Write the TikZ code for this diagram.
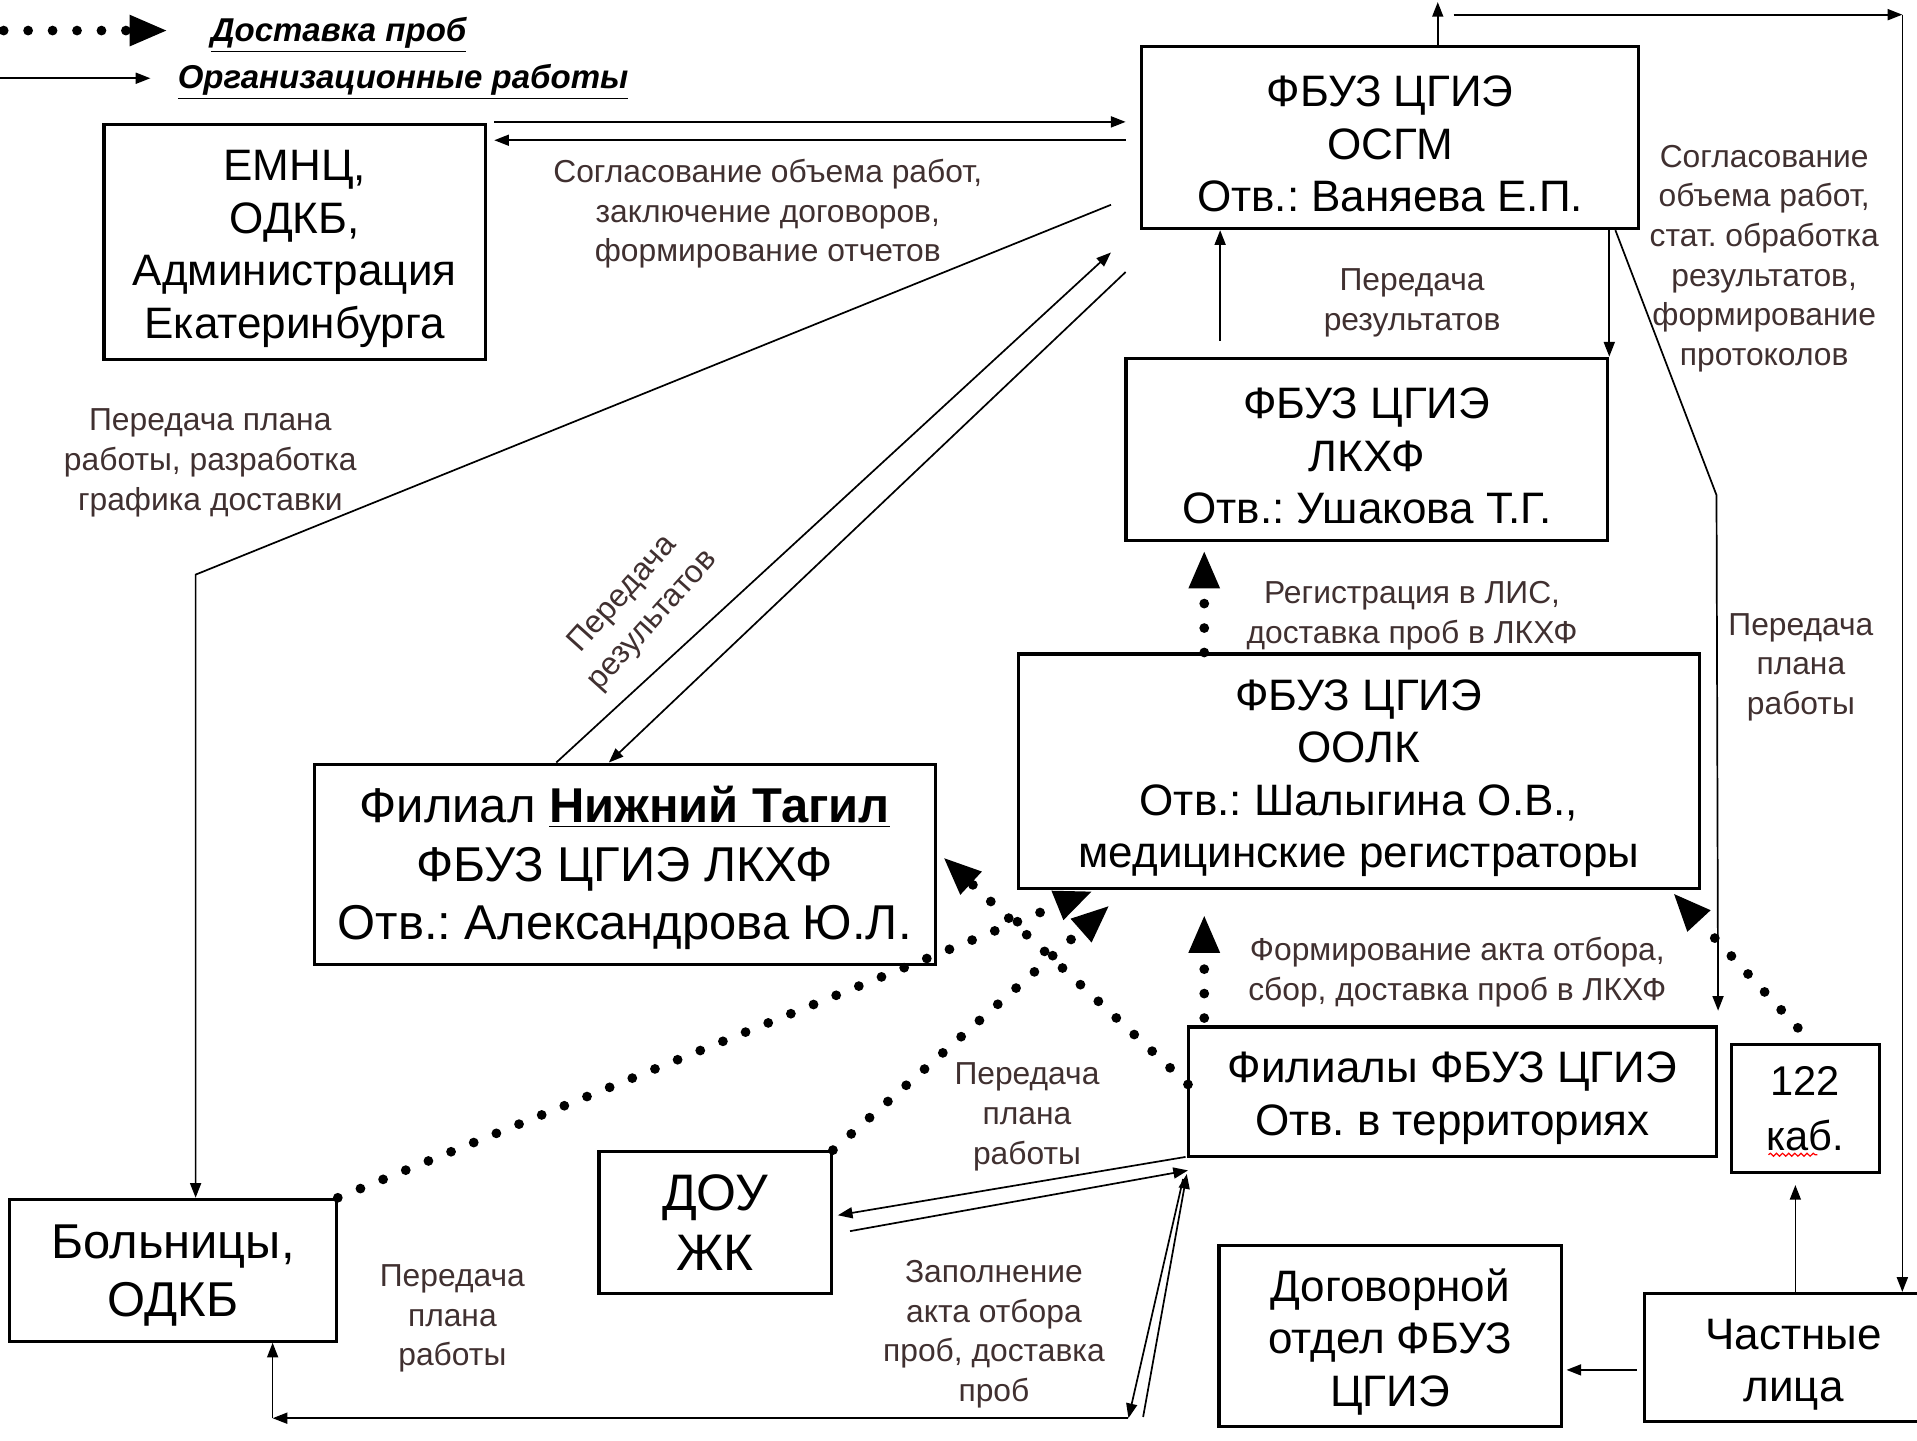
\documentclass[tikz,border=0pt]{standalone}
\usepackage{fontspec}
\setmainfont{Liberation Sans}
\usepackage{tikz}
\usetikzlibrary{positioning, arrows.meta, calc, decorations.pathmorphing}
\frenchspacing
\newcommand{\blockstrut}{\rule{0pt}{18pt}}
\newcommand{\notestrut}{\rule{0pt}{12.5pt}}

\begin{document}
\begin{tikzpicture}[x=0.5pt, y=-0.5pt, >={Triangle[length=6pt,width=4.5pt]}, every node/.style={inner sep=0pt}]
    % Define styles
    \tikzset{
        block/.style={draw, line width=1.3pt, rectangle, align=center, font=\fontsize{18}{21.5}\selectfont},
        note/.style={align=center, text=notegray, font=\fontsize{13}{16.2}\selectfont},
        legend/.style={anchor=west, font=\fontsize{13.5}{16}\selectfont\bfseries\itshape},
        org/.style={->, line width=0.7pt},
        probe/.style={line width=4pt, line cap=round, dash pattern=on 0pt off 10pt, -{Triangle[length=15pt,width=13pt,line width=0pt]}},
        squiggle/.style={red, line width=0.5pt, decorate, decoration={snake, amplitude=0.6pt, segment length=2.5pt}},
    }
    % Define colors
    \definecolor{notegray}{RGB}{64,48,48}

    \useasboundingbox (0,0) rectangle (1568,1178);

    % Legend
    \node[legend] (legprobe) at (172,29) {\underline{Доставка проб}};
    \node[legend] (legorg) at (145,67) {\underline{Организационные работы}};
    \coordinate (legdot) at (3,25);
    \coordinate (legline) at (0,64);
    \draw[probe] (legdot) -- ([xshift=-18pt]legprobe.west |- legdot);
    \draw[org] (legline) -- ([xshift=-11pt]legorg.west |- legline);

    % Nodes
    \node[block, minimum width=156pt, minimum height=96pt] (emnc) at (241,198) {\blockstrut ЕМНЦ,\\ОДКБ,\\Администрация\\Екатеринбурга};
    \node[block, minimum width=203pt, minimum height=74.5pt] (osgm) at (1137,112.5) {\blockstrut ФБУЗ ЦГИЭ\\ОСГМ\\Отв.: Ваняева Е.П.};
    \node[block, minimum width=197pt, minimum height=74.5pt] (lkhf) at (1118,367.5) {\blockstrut ФБУЗ ЦГИЭ\\ЛКХФ\\Отв.: Ушакова Т.Г.};
    \node[block, minimum width=278.5pt, minimum height=96pt] (oolk) at (1111.5,631) {\blockstrut ФБУЗ ЦГИЭ\\ООЛК\\Отв.: Шалыгина О.В.,\\медицинские регистраторы};
    \node[block, minimum width=254pt, minimum height=82pt, font=\fontsize{20}{24}\selectfont] (tagil) at (511,707) {\blockstrut Филиал \textbf{\underline{Нижний Тагил}}\\ФБУЗ ЦГИЭ ЛКХФ\\Отв.: Александрова Ю.Л.};
    \node[block, minimum width=216pt, minimum height=53pt] (filialy) at (1188,893) {\blockstrut Филиалы ФБУЗ ЦГИЭ\\Отв. в территориях};
    \node[block, minimum width=60.5pt, minimum height=52.5pt, font=\fontsize{17}{22.5}\selectfont] (kab) at (1476.5,906.5) {122\\каб.};
    \node[block, minimum width=95pt, minimum height=58pt, font=\fontsize{21}{24.5}\selectfont] (dou) at (585,1000) {ДОУ\\ЖК};
    \node[block, minimum width=133.5pt, minimum height=58pt, font=\fontsize{20}{24}\selectfont] (bol) at (141.5,1039) {\blockstrut Больницы,\\ОДКБ};
    \node[block, minimum width=140pt, minimum height=74pt] (dogovor) at (1137,1093) {\blockstrut Договорной\\отдел ФБУЗ\\ЦГИЭ};
    \node[block, minimum width=112.5pt, minimum height=52.5pt] (chast) at (1457.5,1110.5) {\blockstrut\hspace*{9.5pt}Частные\\\hspace*{9.5pt}лица};
    \draw[squiggle] ($(kab.center)+(-30,38)$) -- ++(40,0);

    % Labels
    \node[note] (lblagree) at (628,172) {\notestrut Согласование объема работ,\\заключение договоров,\\формирование отчетов};
    \node[note] (lblplan) at (172,375) {\notestrut Передача плана\\работы, разработка\\графика доставки};
    \node[note, rotate=48] (lblres) at (522,497) {Передача\\результатов};
    \node[note] (lblres2) at (1155,244) {\notestrut Передача\\результатов};
    \node[note] (lblstat) at (1443,208) {\notestrut Согласование\\объема работ,\\стат. обработка\\результатов,\\формирование\\протоколов};
    \node[note] (lblplan2) at (1473,542) {\notestrut Передача\\плана\\работы};
    \node[note] (lblreg) at (1155,500) {\notestrut Регистрация в ЛИС,\\доставка проб в ЛКХФ};
    \node[note] (lblact) at (1192,792) {\notestrut Формирование акта отбора,\\сбор, доставка проб в ЛКХФ};
    \node[note] (lblplan3) at (840,910) {\notestrut Передача\\плана\\работы};
    \node[note] (lblfill) at (813,1088) {\notestrut Заполнение\\акта отбора\\проб, доставка\\проб};
    \node[note] (lblplan4) at (370,1075) {\notestrut Передача\\плана\\работы};

    % Arrows connecting the nodes
    \draw[org] ($(emnc.north east)+(6,-1)$) -- ($(osgm.west |- emnc.north east)+(-12,-1)$);
    \draw[org] ($(osgm.west |- emnc.north east)+(-12,14)$) -- ($(emnc.north east)+(6,14)$);
    \draw[org] ($(osgm.north)+(39,0)$) -- ++(0,-35);
    \coordinate (topleft) at (1189,12);
    \coordinate (topright) at (1556,12);
    \draw[org] (topleft) -- (topright);
    \draw[org] (topright) -- (topright |- chast.north);
    \coordinate (bend1) at (160,470);
    \draw[org] ($(osgm.west)+(-24,55)$) -- (bend1) -- (bend1 |- bol.north);
    \draw[org] ($(tagil.north)+(-56,0)$) -- ($(osgm.west)+(-24,94)$);
    \draw[org] ($(osgm.west)+(-12,110)$) -- ($(tagil.north)+(-13,0)$);
    \draw[org] (lkhf.north east |- osgm.south) -- (lkhf.north east);
    \coordinate (lkup) at ($(lkhf.north)+(-120,-13)$);
    \draw[org] (lkup) -- (lkup |- osgm.south);
    \coordinate (bend2) at (1404,405);
    \draw[org] ($(osgm.south east)+(-20,0)$) -- (bend2) -- ($(filialy.north east)+(0,-12)$);

    \draw[probe] ($(oolk.north)+(-126.5,0)$) -- ($(lkhf.south)+(-133,8)$);
    \draw[probe] ($(filialy.north)+(-203,-6)$) -- ($(oolk.south)+(-126.5,21)$);
    \draw[probe] ($(kab.north)+(-6,-12)$) -- ($(oolk.south east)+(-22,3)$);
    \draw[probe] (bol.north east) -- ($(oolk.south west)+(61,1)$);
    \draw[probe] (dou.north east) -- ($(oolk.south west)+(75,13)$);
    \draw[probe] ($(filialy.west)+(1,-6)$) -- ($(tagil.east)+(6,-5)$);

    \draw[org] ($(filialy.south west)+(-1,-1)$) -- ($(dou.east)+(4,-6)$);
    \draw[org] ($(dou.east)+(14,7)$) -- ($(filialy.south west)+(1,10)$);
    \coordinate (botright) at (923,1160);
    \coordinate (botleft) at (223,1160);
    \draw[org] ($(filialy.south west)+(-3,17)$) -- (botright);
    \draw[org] (botright) -- (botleft);
    \draw[org] (botleft) -- (botleft |- bol.south);
    \draw[org] ($(botright)+(12,-1)$) -- ($(filialy.south west)+(0,13)$);

    \coordinate (kabin) at ($(kab.south)+(-8,9)$);
    \draw[org] (kabin |- chast.north) -- (kabin);
    \draw[org] ($(chast.west)+(-5,10)$) -- ($(dogovor.east |- chast.west)+(3,10)$);

\end{tikzpicture}
\end{document}
